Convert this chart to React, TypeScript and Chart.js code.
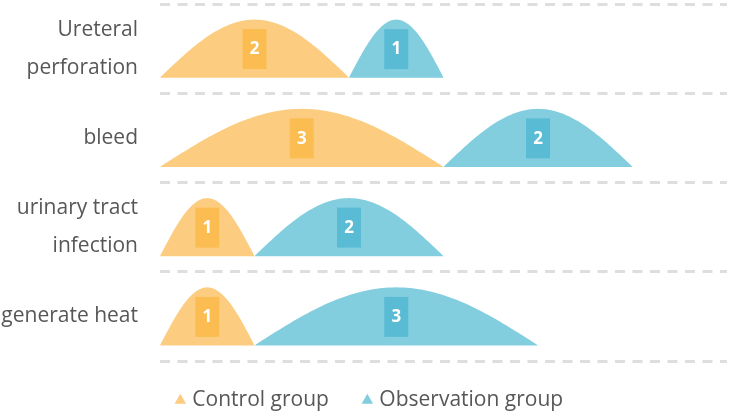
import React, { useEffect, useRef } from 'react';
import { Chart, registerables } from 'chart.js';

Chart.register(...registerables);

// Complication categories (multi-line where the label wraps)
const categories: (string | string[])[] = [
  ['Ureteral', 'perforation'],
  'bleed',
  ['urinary tract', 'infection'],
  'generate heat',
];
const seriesNames = ['Control group', 'Observation group'];
const controlValues = [2, 3, 1, 1];
const observationValues = [1, 2, 2, 3];
const axisMax = 6;

const FONT = '"Open Sans", "Noto Sans", sans-serif';
const TEXT_COLOR = '#575757';

const palette = {
  control: '#fccd80',
  controlTag: '#fbbd51',
  observation: '#82cedf',
  observationTag: '#5abbd4',
};

// Draws each stacked bar as a half-sine "mountain" with a tag showing its value
const mountainBars = {
  id: 'mountainBars',
  beforeDatasetDraw(chart: any, args: any) {
    const { ctx } = chart;
    const ds: any = chart.data.datasets[args.index];
    const meta = args.meta;
    ctx.save();
    meta.data.forEach((bar: any, i: number) => {
      const { x, y, base, height } = bar.getProps(['x', 'y', 'base', 'height'], true);
      const left = Math.min(x, base);
      const right = Math.max(x, base);
      const w = right - left;
      const bottom = y + height / 2;
      const steps = 80;
      ctx.beginPath();
      ctx.moveTo(left, bottom);
      for (let k = 1; k <= steps; k++) {
        const t = k / steps;
        ctx.lineTo(left + w * t, bottom - height * Math.sin(Math.PI * t));
      }
      ctx.closePath();
      ctx.fillStyle = ds.backgroundColor;
      ctx.fill();

      const cx = (left + right) / 2;
      const tagW = 24;
      const tagH = 40;
      ctx.fillStyle = ds.tagColor;
      ctx.fillRect(cx - tagW / 2, y - tagH / 2 + 0.5, tagW, tagH);
      ctx.fillStyle = '#ffffff';
      ctx.font = `bold 17px ${FONT}`;
      ctx.textAlign = 'center';
      ctx.textBaseline = 'middle';
      ctx.fillText(String(ds.data[i]), cx, y + 1);
    });
    ctx.restore();
    return false;
  },
};

// Keeps the wide legend item spacing while sitting the legend row closer to the plot
const legendLift = {
  id: 'legendLift',
  afterLayout(chart: any) {
    const legend = chart.legend;
    if (legend) {
      legend.top -= 8;
      legend.height += 8;
      legend.left += 15;
    }
  },
};

export default function App() {
  const canvasRef = useRef<HTMLCanvasElement | null>(null);

  useEffect(() => {
    const canvas = canvasRef.current;
    if (!canvas) return;
    const chart = new Chart(canvas, {
      type: 'bar',
      data: {
        labels: categories,
        datasets: [
          {
            label: seriesNames[0],
            data: controlValues,
            backgroundColor: palette.control,
            tagColor: palette.controlTag,
            borderWidth: 0,
          } as any,
          {
            label: seriesNames[1],
            data: observationValues,
            backgroundColor: palette.observation,
            tagColor: palette.observationTag,
            borderWidth: 0,
          } as any,
        ],
      },
      options: {
        indexAxis: 'y',
        responsive: false,
        animation: false,
        maintainAspectRatio: false,
        layout: { padding: { top: 4, right: 3, left: 0, bottom: 0 } },
        datasets: {
          bar: { barPercentage: 0.65, categoryPercentage: 1 },
        },
        scales: {
          x: {
            display: false,
            stacked: true,
            min: 0,
            max: axisMax,
          },
          y: {
            stacked: true,
            grid: {
              color: '#dedede',
              lineWidth: 3,
              drawTicks: false,
              offset: true,
            },
            border: { display: false, dash: [10, 7.5] },
            ticks: {
              padding: 22,
              color: TEXT_COLOR,
              font: { size: 21, family: FONT, lineHeight: 1.8 },
            },
            afterFit(scale: any) {
              scale.width = 160;
              scale.paddingTop = 0;
              scale.paddingBottom = 0;
            },
          },
        },
        plugins: {
          legend: {
            position: 'bottom',
            maxHeight: 55,
            labels: {
              usePointStyle: true,
              pointStyle: 'triangle',
              boxWidth: 3,
              boxHeight: 9.4,
              padding: 37,
              color: TEXT_COLOR,
              font: { size: 21, family: FONT },
            },
          },
          tooltip: { enabled: false },
        },
      } as any,
      plugins: [mountainBars, legendLift],
    });
    return () => chart.destroy();
  }, []);

  return (
    <div style={{ position: 'absolute', left: 0, top: 0, width: 730, height: 416, background: '#fff' }}>
      <canvas ref={canvasRef} width={730} height={416} />
    </div>
  );
}
